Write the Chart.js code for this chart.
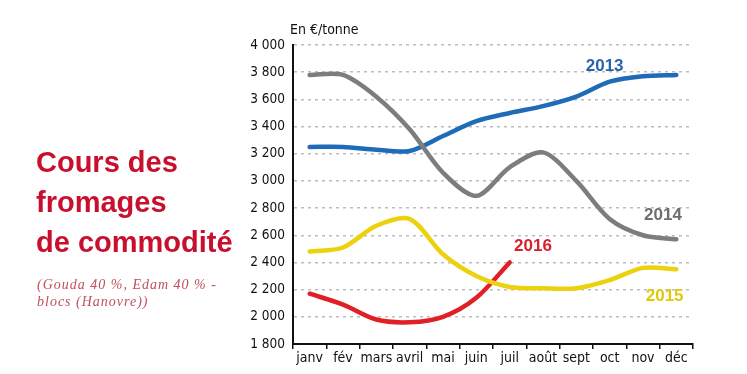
<!DOCTYPE html>
<html><head><meta charset="utf-8">
<script src="https://cdn.jsdelivr.net/npm/chart.js@4"></script>
<style>
html,body{margin:0;padding:0;background:#fff;}
#wrap{position:relative;width:747px;height:374px;overflow:hidden;}
canvas{position:absolute;left:0;top:0;}
#title{position:absolute;left:36px;top:142px;font-family:"Liberation Sans",Arial,sans-serif;font-weight:bold;font-size:29px;line-height:40px;color:#c8102e;white-space:nowrap;}
#sub{position:absolute;left:37px;top:276px;font-family:"Liberation Serif","DejaVu Serif",serif;font-style:italic;font-size:14px;line-height:17px;letter-spacing:1px;color:#bf4f5a;white-space:nowrap;}
</style></head><body>
<div id="wrap">
<canvas id="c" width="747" height="374"></canvas>
<div id="title">Cours des<br>fromages<br>de commodité</div>
<div id="sub">(Gouda 40 %, Edam 40 % -<br>blocs (Hanovre))</div>
</div>
<script>
const months = ['janv','fév','mars','avril','mai','juin','juil','août','sept','oct','nov','déc'];
const s2013 = [3250,3250,3230,3220,3330,3440,3500,3550,3620,3730,3770,3780];
const s2014 = [3780,3780,3620,3380,3060,2890,3100,3210,3000,2720,2600,2570];
const s2015 = [2480,2510,2670,2720,2460,2300,2220,2210,2210,2270,2360,2350];
const s2016 = [2170,2090,1980,1960,2000,2140,2400];
const seriesNames = ['2013','2014','2015','2016'];
const seriesColors = ['#1e6bb8','#7d7d7d','#ecd20e','#e11f26'];
const labelColors = ['#2a64a8','#6e6e6e','#e0c80a','#d8202a'];
const labelIdx = [8.85, 10.6, 10.65, 6.7];
const labelVal = [3840, 2750, 2150, 2520];
const yMin = 1800, yMax = 4000, yStep = 200;

const FONT = '"DejaVu Sans Condensed","Liberation Sans",Arial,sans-serif';

const seriesLabelPlugin = {
  id:'seriesLabels',
  afterDatasetsDraw(chart){
    const ctx = chart.ctx, sx = chart.scales.x, sy = chart.scales.y;
    ctx.save();
    ctx.font = 'bold 17px "Liberation Sans",Arial,sans-serif';
    ctx.textAlign='center'; ctx.textBaseline='middle';
    seriesNames.forEach((n,i)=>{
      const f = Math.floor(labelIdx[i]), fr = labelIdx[i]-f;
      const x0 = sx.getPixelForValue(f), x1 = sx.getPixelForValue(f+1);
      const x = x0 + (x1-x0)*fr;
      const y = sy.getPixelForValue(labelVal[i]);
      ctx.fillStyle = labelColors[i];
      ctx.fillText(n,x,y);
    });
    ctx.font = '14px ' + FONT;
    ctx.fillStyle='#111'; ctx.textAlign='left';
    ctx.fillText('En €/tonne', chart.chartArea.left-3, chart.chartArea.top-15);
    ctx.restore();
  }
};

const mk = (label,data,i)=>({label,data,borderColor:seriesColors[i],backgroundColor:seriesColors[i],borderWidth:4.5,pointRadius:0,tension:0.3,fill:false,borderCapStyle:'round',borderJoinStyle:'round'});

new Chart(document.getElementById('c'),{
  type:'line',
  data:{labels:months,datasets:[mk('2015',s2015,2),mk('2014',s2014,1),mk('2013',s2013,0),mk('2016',s2016,3)]},
  options:{
    responsive:false,animation:false,
    layout:{padding:{left:0,right:54,top:45,bottom:0}},
    plugins:{legend:{display:false},tooltip:{enabled:false}},
    scales:{
      x:{
        offset:true,
        grid:{display:true,drawOnChartArea:false,offset:true,tickLength:5,color:'#111',lineWidth:1.5},
        border:{display:true,color:'#111',width:2},
        ticks:{color:'#111',padding:1,font:{family:FONT,size:14},maxRotation:0,autoSkip:false},
        afterFit(s){s.height=30;}
      },
      y:{
        min:yMin,max:yMax,
        grid:{color:'#bdbdbd',lineWidth:1.5,drawTicks:false},
        border:{display:true,color:'#111',width:2,dash:[3,4]},
        ticks:{stepSize:yStep,padding:8,color:'#111',font:{family:FONT,size:13.5},
          callback:v=>{const s=String(v);return s.length>3?s.slice(0,s.length-3)+' '+s.slice(-3):s;}},
        afterFit(s){s.width=293;}
      }
    }
  },
  plugins:[seriesLabelPlugin]
});
</script>
</body></html>
